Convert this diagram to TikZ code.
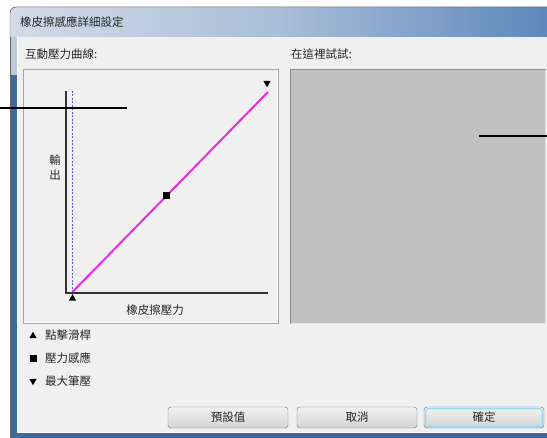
\documentclass[tikz,border=0pt]{standalone}
\usepackage{fontspec}
\setmainfont{Noto Sans CJK TC}
\usetikzlibrary{calc,shapes.geometric}
\definecolor{winface}{HTML}{F0F0F0}
\definecolor{titleL}{HTML}{D2DCE8}
\definecolor{titleM}{HTML}{A9BED8}
\definecolor{titleR}{HTML}{5E88BC}
\definecolor{frameblue}{HTML}{3E6AA1}
\definecolor{framelight}{HTML}{BDCCDD}
\definecolor{trygray}{HTML}{C0C0C0}
\definecolor{curvepink}{HTML}{E52FD6}
\definecolor{dashblue}{HTML}{5A5AD0}
\definecolor{okblue}{HTML}{3C7FB1}
\definecolor{okglow}{HTML}{9ADAF2}
\tikzset{
  txt/.style={anchor=west, inner sep=0pt, text=black!85, font=\fontsize{11.5}{15}\selectfont},
  axisline/.style={line width=2.5pt, draw=black!80},
  upmark/.style={regular polygon, regular polygon sides=3, fill=black, minimum size=8.5pt, inner sep=0pt},
  downmark/.style={upmark, shape border rotate=180},
  sqmark/.style={rectangle, fill=black, minimum size=7pt, inner sep=0pt},
  btn/.style={rectangle, rounded corners=3pt, draw=black!55, top color=white!95!black, bottom color=black!17,
    minimum width=120pt, minimum height=21pt, inner sep=0pt, text=black!85, font=\fontsize{11.5}{14}\selectfont},
  pointer/.style={line width=2pt, black}
}

\begin{document}
\begin{tikzpicture}[x=1pt, y=-1pt]
			\useasboundingbox (0,0) rectangle (547,438);
			%%%%% WINDOW %%%%%
			\fill[left color=titleL, right color=titleR, middle color=titleM] (10,37) [rounded corners=6pt] -- (10,7) [sharp corners] -- (547,7) -- (547,37) -- cycle;
			\draw[black!70] (10,37) [rounded corners=6pt] -- (10,7) [sharp corners] -- (547,7);
			\fill[framelight] (10,37) rectangle (17,75);
			\fill[frameblue] (10,75) rectangle (17,438);
			\fill[frameblue] (10,432) rectangle (547,438);
			\draw[black!60] (10,37) -- (10,438);
			\fill[winface] (17,37) rectangle (547,432);
			\draw[white] (17,37) -- (17,432) -- (547,432);
			
			\node[txt] (title) at (20,22) {橡皮擦感應詳細設定};
			
			%%%%% PANELS %%%%%
			\filldraw[fill=winface, draw=black!35] (23,69) rectangle (278,323);
			\draw[white] (24,322) -- (277,322) -- (277,70);
			\filldraw[fill=trygray, draw=black!45] (290,69) rectangle (545,323);
			\draw[white!90!black] (291,323) -- (545,323) -- (545,70);
			
			\node[txt] (curvelbl) at (25,54) {互動壓力曲線:};
			\node[txt] (trylbl) at (291,54) {在這裡試試:};
			
			%%%%% CURVE %%%%%
			\coordinate (origin) at (66,293);
			\coordinate (ytop) at (66,91);
			\coordinate (xend) at (268,293);
			\coordinate (dtop) at (72.5,91);
			\coordinate (lo) at (72.5,292);
			\coordinate (hi) at (268,92);
			
			\draw[dashblue, line width=1pt, dash pattern=on 2pt off 1.5pt] (dtop) -- (lo);
			\draw[axisline] (ytop) -- (origin) -- (xend);
			\draw[curvepink, line width=2pt] (lo) -- (hi);
			
			\node[sqmark] (mid) at ($(lo)!0.48!(hi)$) {};
			\node[upmark] (minmark) at (72.5,298.5) {};
			\node[downmark] (maxmark) at (267,83) {};
			
			\node[txt, anchor=center, align=center] (ylbl) at (55,168) {輸\\出};
			\node[txt, anchor=center] (xlbl) at (155,310) {橡皮擦壓力};
			
			%%%%% LEGEND %%%%%
			\node[upmark] (lgclick) at (33,336) {};
			\node[txt] (lgclicktxt) at (45,335) {點擊滑桿};
			\node[sqmark] (lgpress) at (33,359) {};
			\node[txt] (lgpresstxt) at (45,358) {壓力感應};
			\node[downmark] (lgmax) at (33,381) {};
			\node[txt] (lgmaxtxt) at (45,381) {最大筆壓};
			
			%%%%% BUTTONS %%%%%
			\node[btn] (preset) at (228,417.5) {預設值};
			\node[btn] (cancel) at (357,417.5) {取消};
			\node[btn, draw=okblue] (ok) at (484,417.5) {確定};
			\draw[okglow, line width=1.2pt, rounded corners=2pt] ($(ok.south west)+(2,-2)$) rectangle ($(ok.north east)+(-2,2)$);
			
			%%%%% POINTERS %%%%%
			\coordinate (pl) at (0,108);
			\coordinate (pr) at (127,108);
			\coordinate (ql) at (479,136);
			\coordinate (qr) at (547,136);
			\draw[pointer] (pl) -- (pr);
			\draw[pointer] (ql) -- (qr);
		\end{tikzpicture}
\end{document}
